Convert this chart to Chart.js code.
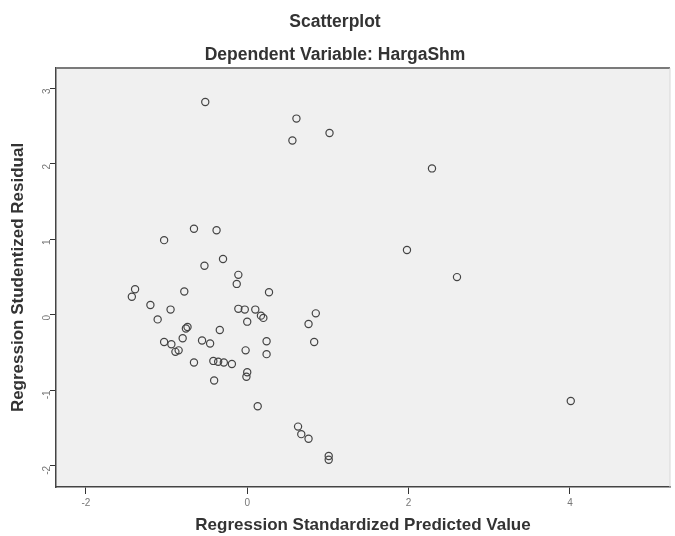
<!DOCTYPE html>
<html>
<head>
<meta charset="utf-8">
<script src="https://cdn.jsdelivr.net/npm/chart.js@4/dist/chart.umd.min.js"></script>
<style>
html,body{margin:0;padding:0;background:#fff;}
#wrap{width:675px;height:536px;}
</style>
</head>
<body>
<div id="wrap"><canvas id="c" width="675" height="536"></canvas></div>
<script>
const chartTitle = "Scatterplot";
const chartSubtitle = "Dependent Variable: HargaShm";
const xAxisTitle = "Regression Standardized Predicted Value";
const yAxisTitle = "Regression Studentized Residual";

// Regression standardized predicted values
const predictedValues = [
  -0.52, 0.61, 0.56, 1.02, 2.29, 1.98, 2.60, 4.01, 0.85, 0.76,
  0.83, 0.63, 0.67, 0.76, 1.01, 1.01,
  -1.03, -0.66, -0.38, -0.30, -0.53, -0.11, -0.13, -1.39, -1.43, -0.78,
  0.27, -1.20, -0.95, -1.11, -0.11, -0.03, 0.10, 0.17, 0.20, 0.00,
  -0.74, -0.76, -0.34, -0.80, -1.03, -0.94, -0.89, -0.85, -0.56, -0.46,
  0.24, 0.24, -0.02, -0.66, -0.42, -0.36, -0.29, -0.19, 0.00, -0.01,
  -0.41, 0.13
];
// Regression studentized residuals
const studentizedResiduals = [
  2.82, 2.60, 2.31, 2.41, 1.94, 0.86, 0.50, -1.14, 0.02, -0.12,
  -0.36, -1.48, -1.58, -1.64, -1.87, -1.92,
  0.99, 1.14, 1.12, 0.74, 0.65, 0.53, 0.41, 0.34, 0.24, 0.31,
  0.30, 0.13, 0.07, -0.06, 0.08, 0.07, 0.07, -0.01, -0.04, -0.09,
  -0.16, -0.18, -0.20, -0.31, -0.36, -0.39, -0.49, -0.47, -0.34, -0.38,
  -0.35, -0.52, -0.47, -0.63, -0.61, -0.62, -0.63, -0.65, -0.76, -0.82,
  -0.87, -1.21
];
const xTickValues = [-2, 0, 2, 4];
const yTickValues = [-2, -1, 0, 1, 2, 3];

const points = predictedValues.map((x, i) => ({x: x, y: studentizedResiduals[i]}));

const plotBg = {
  id: 'plotBg',
  beforeDraw(chart) {
    const {ctx, chartArea: a} = chart;
    ctx.save();
    ctx.fillStyle = '#f0f0f0';
    ctx.fillRect(a.left, a.top, a.right - a.left, a.bottom - a.top);
    ctx.restore();
  },
  afterDraw(chart) {
    const {ctx, chartArea: a} = chart;
    ctx.save();
    ctx.lineWidth = 2;
    ctx.strokeStyle = '#7a7a7a';
    ctx.beginPath();
    ctx.moveTo(a.left, a.top);
    ctx.lineTo(a.right, a.top);
    ctx.stroke();
    ctx.lineWidth = 1;
    ctx.strokeStyle = '#d8d8d8';
    ctx.beginPath();
    ctx.moveTo(a.right, a.top);
    ctx.lineTo(a.right, a.bottom);
    ctx.stroke();
    ctx.restore();
  }
};

const titleFont = {family: 'Liberation Sans', size: 17.5, weight: 'bold'};
const axisTitleFont = {family: 'Liberation Sans', size: 17, weight: 'bold'};
const tickFont = {family: 'Liberation Sans', size: 10};

new Chart(document.getElementById('c'), {
  type: 'scatter',
  data: {
    datasets: [{
      data: points,
      pointRadius: 3.6,
      pointHoverRadius: 3.6,
      pointBorderWidth: 1.2,
      pointBorderColor: '#444',
      pointBackgroundColor: 'rgba(0,0,0,0)'
    }]
  },
  options: {
    responsive: false,
    animation: false,
    layout: {padding: {left: 0, right: 5, top: 0, bottom: 0}},
    plugins: {
      legend: {display: false},
      tooltip: {enabled: false},
      title: {
        display: true, text: chartTitle, color: '#333',
        font: titleFont,
        padding: {top: 12, bottom: 6}
      },
      subtitle: {
        display: true, text: chartSubtitle, color: '#333',
        font: titleFont,
        padding: {top: 6, bottom: 2}
      }
    },
    scales: {
      x: {
        type: 'linear', min: -2.37, max: 5.24,
        afterFit(s) { s.height = 49; },
        afterBuildTicks(s) { s.ticks = xTickValues.map(v => ({value: v})); },
        ticks: {color: '#777', font: tickFont, padding: 3, maxRotation: 0, minRotation: 0},
        grid: {display: true, drawOnChartArea: false, drawTicks: true, tickLength: 7, color: '#333'},
        border: {display: true, color: '#444', width: 1.5},
        title: {display: true, text: xAxisTitle, color: '#333',
          font: axisTitleFont, padding: {top: 0, bottom: 0}}
      },
      y: {
        type: 'linear', min: -2.28, max: 3.27,
        afterFit(s) { s.width = 56; },
        afterBuildTicks(s) { s.ticks = yTickValues.map(v => ({value: v})); },
        ticks: {color: '#777', font: tickFont, padding: 3, minRotation: 90, maxRotation: 90},
        grid: {display: true, drawOnChartArea: false, drawTicks: true, tickLength: 6, color: '#333'},
        border: {display: true, color: '#444', width: 1.5},
        title: {display: true, text: yAxisTitle, color: '#333',
          font: axisTitleFont, padding: {top: 8, bottom: 0}}
      }
    }
  },
  plugins: [plotBg]
});
</script>
</body>
</html>
